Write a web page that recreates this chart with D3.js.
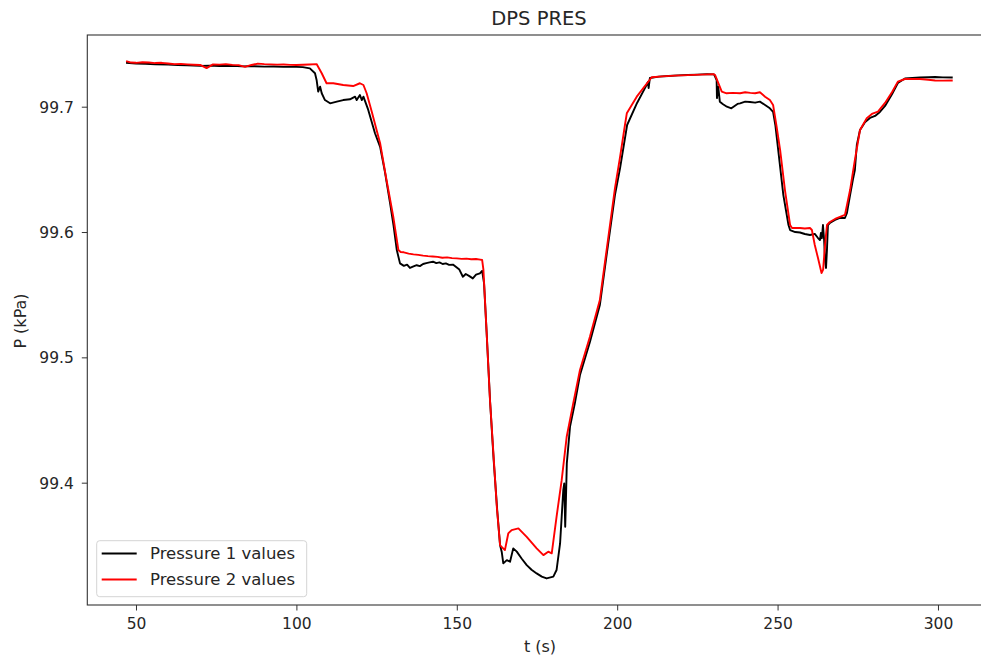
<!DOCTYPE html>
<html>
<head>
<meta charset="utf-8">
<script src="https://cdn.jsdelivr.net/npm/d3@7"></script>
<style>
  html, body { margin: 0; padding: 0; background: #fff; overflow: hidden; }
  svg { display: block; font-family: "DejaVu Sans", sans-serif; }
</style>
</head>
<body>
<svg id="chart" width="981" height="658"></svg>
<script>
// Time (s) and pressure (kPa) samples for sensor 1
const p1Time = [47.2, 50, 53, 56, 60, 63, 66, 70, 73, 76, 80, 83, 86, 90, 93, 96, 100, 102, 104.2,
  105.8, 106.3, 106.8, 107.4, 107.9, 108.9, 110.5, 112.6, 114.6, 116.7, 118.3, 118.8, 119.8, 120.4,
  120.9, 122.4, 124.5, 126.1, 127.6, 129.2, 130.3, 131.3, 132.3, 133.5, 134.5, 135.4, 136.5, 137.5,
  138.5, 139.5, 140.5, 141.5, 142.6, 143.6, 144.6, 145.6, 146.6, 147.6, 148.8, 149.8, 150.8, 151.9,
  152.8, 153.8, 155.0, 156.0, 157.2, 157.9, 158.5, 159.3, 160.4, 161.5, 162.6, 163.5, 164.0, 164.5,
  165.6, 166.6, 167.6, 168.7, 170.2, 171.8, 173.3, 174.9, 176.5, 178.0, 180.1, 181.1, 182.2, 182.7,
  183.2, 183.5, 183.8, 184.0, 184.3, 185.3, 186.8, 188.4, 191.5, 194.6, 196.7, 199.3, 200.9, 203.1,
  206.2, 208.7, 209.6, 209.8, 210.2, 213, 216, 219, 222, 225, 228, 230.2, 231.0, 231.1, 231.5,
  232.0, 233.0, 234.2, 235.6, 237.5, 238.3, 239.9, 241.4, 243.0, 244.5, 246.1, 247.6, 248.6, 249.3,
  250.2, 251.8, 253.4, 253.9, 255.5, 257.0, 258.5, 260.1, 261.6, 262.6, 263.2, 263.5, 263.8, 264.15,
  264.5, 264.8, 265.1, 265.4, 265.7, 266.3, 267.9, 269.45, 271.0, 271.6, 272.6, 273.5, 274.1, 274.7,
  275.7, 277.3, 278.8, 280.4, 281.9, 283.5, 285.7, 287.5, 289.7, 292, 294.4, 297, 299.1, 301.5, 304.3];
const p1Value = [99.7350, 99.7345, 99.7343, 99.7338, 99.7336, 99.7333, 99.7330, 99.7326, 99.7328,
  99.7325, 99.7327, 99.7322, 99.7324, 99.7320, 99.7321, 99.7318, 99.7318, 99.7316, 99.7306,
  99.7267, 99.7213, 99.7120, 99.7160, 99.7107, 99.7053, 99.7027, 99.7040, 99.7053, 99.7059, 99.7080,
  99.7053, 99.7093, 99.7053, 99.7080, 99.6974, 99.6788, 99.6680, 99.6480, 99.6230, 99.6050, 99.5856,
  99.5750, 99.5730, 99.5740, 99.5713, 99.5725, 99.5735, 99.5728, 99.5745, 99.5752, 99.5758, 99.5763,
  99.5752, 99.5758, 99.5745, 99.5750, 99.5738, 99.5740, 99.5720, 99.5700, 99.5643, 99.5665, 99.5650,
  99.5630, 99.5660, 99.5670, 99.5690, 99.5590, 99.5200, 99.4640, 99.4180, 99.3780, 99.3500, 99.3449,
  99.3356, 99.3382, 99.3369, 99.3476, 99.3450, 99.3395, 99.3342, 99.3305, 99.3276, 99.3250, 99.3236,
  99.3250, 99.3303, 99.3515, 99.3728, 99.3941, 99.3994, 99.3648, 99.3837, 99.4154, 99.4447, 99.4633,
  99.4859, 99.5122, 99.5417, 99.5816, 99.6294, 99.6510, 99.6854, 99.7030, 99.7150, 99.7197, 99.7149,
  99.7229, 99.7240, 99.7245, 99.7250, 99.7253, 99.7256, 99.7260, 99.7258, 99.7213, 99.7069, 99.7160,
  99.7040, 99.7020, 99.7000, 99.6987, 99.7022, 99.7027, 99.7040, 99.7037, 99.7032, 99.7040, 99.7014,
  99.6987, 99.6958, 99.6854, 99.6654, 99.6295, 99.6056, 99.6016, 99.6000, 99.5996, 99.5984, 99.5976,
  99.5985, 99.5952, 99.5936, 99.5992, 99.5950, 99.6056, 99.5940, 99.5776, 99.5713, 99.5860, 99.6056,
  99.6072, 99.6096, 99.6112, 99.6112, 99.6150, 99.6295, 99.6420, 99.6495, 99.6694, 99.6814, 99.6877,
  99.6910, 99.6926, 99.6958, 99.7006, 99.7101, 99.7189, 99.7225, 99.7230, 99.7233, 99.7235, 99.7237,
  99.7234, 99.7233];

// Time (s) and pressure (kPa) samples for sensor 2
const p2Time = [47.2, 48.5, 50, 52, 54, 56, 58, 60, 62, 64, 66, 68, 70, 72, 74, 76, 78, 80, 82, 84,
  86, 88, 90, 92, 94, 96, 98, 100, 102, 104, 106.3, 107.9, 109.4, 111.5, 114.6, 117.7, 119.8, 120.9,
  121.9, 123.5, 125.0, 126.1, 128.1, 130.2, 131.8, 132.5, 133.5, 135, 136.5, 138, 139.5, 141, 142.5,
  144, 145.5, 147, 148.5, 150, 151.5, 153, 154.5, 156, 157.3, 157.9, 158.3, 159.3, 160.35, 161.5,
  162.5, 163.5, 165.0, 166.05, 167.1, 169.2, 171.8, 174.9, 177.0, 178.5, 179.6, 181.1, 182.7, 184.26,
  186.3, 188.4, 191.5, 194.6, 196.7, 199.3, 200.9, 202.4, 203.0, 206.1, 210.75, 214, 218, 222, 226,
  230.0, 230.5, 232.6, 234.1, 236, 238.3, 239.9, 241.5, 243.0, 244.5, 246.1, 247.6, 248.6, 249.7,
  250.8, 252.3, 253.9, 254.5, 257.0, 258.5, 260.1, 260.7, 261.6, 262.6, 263.7, 264.2, 264.8, 265.4,
  266.3, 267.9, 269.45, 271.0, 272.6, 274.1, 275.7, 277.8, 279.4, 281.3, 283.5, 285.7, 287.5, 289.7,
  292, 294.4, 297, 299.1, 301.5, 304.3];
const p2Value = [99.7362, 99.7352, 99.7350, 99.7355, 99.7352, 99.7348, 99.7350, 99.7345, 99.7340,
  99.7342, 99.7338, 99.7335, 99.7333, 99.7308, 99.7338, 99.7336, 99.7340, 99.7334, 99.7332, 99.7318,
  99.7333, 99.7344, 99.7340, 99.7338, 99.7336, 99.7337, 99.7334, 99.7333, 99.7335, 99.7337, 99.7340,
  99.7267, 99.7187, 99.7187, 99.7173, 99.7165, 99.7187, 99.7173, 99.7107, 99.6960, 99.6814, 99.6708,
  99.6415, 99.6122, 99.5856, 99.5840, 99.5838, 99.5828, 99.5822, 99.5818, 99.5812, 99.5808, 99.5805,
  99.5802, 99.5795, 99.5798, 99.5792, 99.5790, 99.5786, 99.5788, 99.5783, 99.5785, 99.5780, 99.5777,
  99.5700, 99.5200, 99.4660, 99.4200, 99.3800, 99.3500, 99.3462, 99.3595, 99.3622, 99.3635, 99.3568,
  99.3476, 99.3422, 99.3449, 99.3436, 99.3728, 99.4020, 99.4366, 99.4633, 99.4899, 99.5164, 99.5457,
  99.5856, 99.6349, 99.6600, 99.6850, 99.6947, 99.7080, 99.7235, 99.7242, 99.7248, 99.7252, 99.7256,
  99.7260, 99.7253, 99.7120, 99.7107, 99.7110, 99.7107, 99.7115, 99.7110, 99.7107, 99.7115, 99.7080,
  99.7053, 99.7014, 99.6840, 99.6654, 99.6335, 99.6056, 99.6032, 99.6032, 99.6028, 99.6032, 99.6016,
  99.5896, 99.5792, 99.5673, 99.5700, 99.5897, 99.6056, 99.6080, 99.6104, 99.6120, 99.6136, 99.6335,
  99.6575, 99.6814, 99.6907, 99.6942, 99.6960, 99.7030, 99.7117, 99.7200, 99.7221, 99.7222, 99.7221,
  99.7215, 99.7209, 99.7208, 99.7209];

const xTicks = [50, 100, 150, 200, 250, 300];
const yTicks = [99.4, 99.5, 99.6, 99.7];
const seriesNames = ["Pressure 1 values", "Pressure 2 values"];
const seriesColors = ["#000000", "#ff0000"];

const svg = d3.select("#chart");
const plot = { left: 87.3, right: 995.2, top: 35, bottom: 605 };

const x = d3.scaleLinear().domain([34.82, 317.84]).range([plot.left, plot.right]);
const y = d3.scaleLinear().domain([99.3024, 99.7572]).range([plot.bottom, plot.top]);

const textColor = "#262626";

// Axes
const xAxis = svg.append("g")
  .attr("transform", `translate(0,${plot.bottom})`)
  .call(d3.axisBottom(x).tickValues(xTicks).tickFormat(d3.format("d")).tickSize(5.5).tickPadding(7));
const yAxis = svg.append("g")
  .attr("transform", `translate(${plot.left},0)`)
  .call(d3.axisLeft(y).tickValues(yTicks).tickFormat(d3.format(".1f")).tickSize(5.5).tickPadding(8));

[xAxis, yAxis].forEach(g => {
  g.select(".domain").remove();
  g.selectAll(".tick line").attr("stroke", "#333").attr("stroke-width", 1);
  g.selectAll(".tick text")
    .attr("fill", textColor)
    .style("font-family", "'DejaVu Sans', sans-serif")
    .style("font-size", "15.5px");
});
xAxis.selectAll(".tick text").attr("dy", "0.71em");
yAxis.selectAll(".tick text").attr("dy", "0.36em");

// Data lines
const clip = svg.append("clipPath").attr("id", "plot-clip")
  .append("rect")
  .attr("x", plot.left).attr("y", plot.top)
  .attr("width", plot.right - plot.left).attr("height", plot.bottom - plot.top);

const line = d3.line().x(d => x(d[0])).y(d => y(d[1]));
const series = [
  d3.zip(p1Time, p1Value),
  d3.zip(p2Time, p2Value)
];

const linesG = svg.append("g").attr("clip-path", "url(#plot-clip)");
series.forEach((pts, i) => {
  linesG.append("path")
    .datum(pts)
    .attr("fill", "none")
    .attr("stroke", seriesColors[i])
    .attr("stroke-width", 1.9)
    .attr("stroke-linejoin", "round")
    .attr("stroke-linecap", "square")
    .attr("d", line);
});

// Frame around the plotting area
svg.append("rect")
  .attr("x", plot.left).attr("y", plot.top)
  .attr("width", plot.right - plot.left).attr("height", plot.bottom - plot.top)
  .attr("fill", "none").attr("stroke", "#333").attr("stroke-width", 1.1);

// Title and axis labels
svg.append("text")
  .attr("x", 539).attr("y", 25)
  .attr("text-anchor", "middle")
  .attr("fill", textColor)
  .style("font-size", "19.5px")
  .text("DPS PRES");

svg.append("text")
  .attr("x", 540).attr("y", 651.5)
  .attr("text-anchor", "middle")
  .attr("fill", textColor)
  .style("font-size", "16px")
  .text("t (s)");

svg.append("text")
  .attr("transform", "translate(20,321) rotate(-90)")
  .attr("text-anchor", "middle")
  .attr("dominant-baseline", "central")
  .attr("fill", textColor)
  .style("font-size", "16px")
  .text("P (kPa)");

// Legend
const legend = svg.append("g");
legend.append("rect")
  .attr("x", 96.7).attr("y", 540.7)
  .attr("width", 210).attr("height", 56)
  .attr("rx", 3).attr("ry", 3)
  .attr("fill", "#fff").attr("fill-opacity", 0.8)
  .attr("stroke", "#d4d4d4").attr("stroke-width", 1);

seriesNames.forEach((name, i) => {
  const ly = 553.5 + i * 26;
  legend.append("line")
    .attr("x1", 101.7).attr("x2", 136.7)
    .attr("y1", ly).attr("y2", ly)
    .attr("stroke", seriesColors[i]).attr("stroke-width", 1.9);
  legend.append("text")
    .attr("x", 150).attr("y", ly)
    .attr("dominant-baseline", "central")
    .attr("fill", textColor)
    .style("font-size", "16.5px")
    .text(name);
});
</script>
</body>
</html>
